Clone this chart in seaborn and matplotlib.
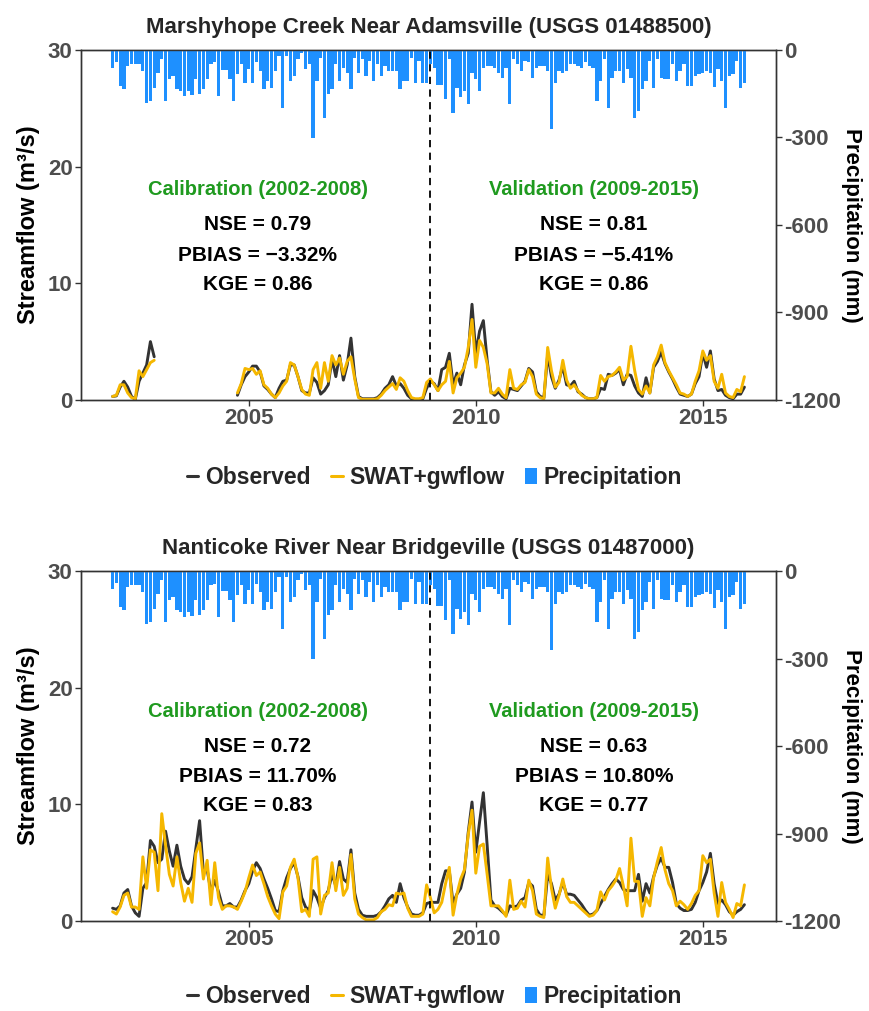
import numpy as np
import pandas as pd
import matplotlib
matplotlib.use("Agg")
import matplotlib.pyplot as plt
import seaborn as sns
from matplotlib.lines import Line2D
from matplotlib.patches import Patch

sns.set_theme(style="ticks")
plt.rcParams["font.family"] = ["Liberation Sans", "DejaVu Sans"]
plt.rcParams["font.weight"] = "bold"
plt.rcParams["axes.unicode_minus"] = False

# ----------------------------
# Data (monthly, Jan 2002 - Dec 2015)
# ----------------------------
start_year = 2002
n_months = 168
split_year = 2009

x_ticks = [2005, 2010, 2015]
flow_ticks = [0, 10, 20, 30]
precip_ticks = [0, -300, -600, -900, -1200]

# monthly precipitation (mm), same forcing for both gauges
precip = [
    61, 40, 123, 133, 55, 49, 49, 49, 72, 181, 175, 129,
    78, 32, 175, 101, 89, 135, 141, 158, 141, 155, 101, 152,
    135, 98, 49, 43, 158, 69, 69, 101, 175, 83, 49, 112,
    66, 112, 43, 72, 135, 106, 129, 72, 21, 198, 21, 106,
    89, 32, 10, 66, 49, 301, 106, 26, 232, 152, 135, 49,
    106, 61, 78, 135, 26, 78, 32, 89, 38, 106, 49, 89,
    55, 72, 72, 72, 135, 106, 106, 26, 112, 38, 112, 112,
    49, 61, 120, 120, 167, 32, 215, 129, 163, 141, 186, 78,
    101, 141, 61, 55, 55, 61, 78, 95, 61, 186, 32, 49,
    72, 38, 43, 95, 61, 55, 55, 72, 272, 112, 72, 78,
    72, 49, 49, 55, 61, 43, 55, 61, 175, 106, 32, 198,
    95, 72, 72, 112, 66, 95, 232, 209, 135, 106, 38, 129,
    32, 95, 98, 101, 49, 106, 72, 49, 123, 123, 89, 83,
    78, 72, 78, 127, 64, 106, 198, 89, 83, 38, 129, 112,
]

nan = np.nan

# Marshyhope Creek (USGS 01488500)
obs_marsh = [
    0.3, 0.35, 1.1, 1.6, 1.1, 0.3, 0.05, 1.6, 2.3, 3.0, 5.0, 3.7,
    nan, nan, nan, nan, nan, nan, nan, nan, nan, nan, nan, nan,
    nan, nan, nan, nan, nan, nan, nan, nan, nan, 0.4, 1.3, 2.0,
    2.4, 2.9, 2.9, 2.4, 1.2, 0.9, 0.5, 0.2, 1.0, 1.6, 1.7, 3.0,
    3.0, 2.0, 0.8, 0.6, 0.6, 1.9, 1.5, 0.5, 0.8, 1.3, 3.5, 2.0,
    3.8, 1.7, 3.0, 5.3, 2.0, 0.3, 0.1, 0.1, 0.1, 0.1, 0.2, 0.5,
    1.0, 1.3, 2.0, 1.2, 1.4, 1.0, 0.4, 0.1, 0.05, 0.05, 0.1, 1.0,
    1.6, 1.4, 0.8, 2.6, 2.8, 4.0, 1.3, 2.3, 1.3, 3.0, 4.0, 8.2,
    4.0, 5.9, 6.8, 3.4, 0.7, 0.4, 0.7, 0.3, 0.1, 1.0, 0.9, 0.8,
    1.2, 1.6, 2.7, 2.4, 0.7, 0.3, 0.2, 3.9, 2.0, 1.0, 1.7, 2.9,
    1.3, 1.2, 1.6, 0.7, 0.5, 0.2, 0.1, 0.1, 0.2, 1.0, 0.9, 2.2,
    2.1, 2.3, 2.6, 1.3, 2.2, 2.1, 1.2, 0.6, 0.3, 1.9, 0.6, 2.8,
    3.3, 4.1, 3.1, 2.4, 1.8, 1.1, 0.5, 0.4, 0.3, 0.5, 1.4, 2.0,
    4.0, 2.8, 4.2, 1.8, 0.8, 0.9, 0.4, 0.2, 0.1, 0.5, 0.5, 1.1,
]
sim_marsh = [
    0.3, 0.4, 1.3, 1.3, 0.6, 0.2, 0.1, 2.5, 2.0, 2.6, 3.2, 3.4,
    nan, nan, nan, nan, nan, nan, nan, nan, nan, nan, nan, nan,
    nan, nan, nan, nan, nan, nan, nan, nan, nan, 0.6, 1.4, 2.7,
    2.6, 2.7, 2.2, 2.5, 1.3, 1.0, 0.5, 0.2, 0.6, 1.2, 1.6, 3.2,
    3.0, 2.0, 0.9, 0.5, 0.4, 2.6, 3.2, 1.0, 3.2, 1.6, 3.8, 3.0,
    3.6, 2.2, 3.3, 3.7, 1.8, 0.2, 0.05, 0.05, 0.05, 0.05, 0.1, 0.4,
    0.8, 1.1, 1.4, 0.9, 1.9, 1.6, 0.8, 0.2, 0.1, 0.1, 0.2, 1.5,
    1.8, 1.3, 0.8, 1.3, 1.6, 3.3, 0.6, 1.9, 2.3, 2.8, 4.5, 6.9,
    2.8, 5.1, 4.5, 3.1, 0.6, 0.6, 1.0, 0.5, 0.2, 2.6, 1.0, 0.9,
    1.3, 1.5, 2.6, 2.0, 0.5, 0.2, 0.1, 4.5, 2.5, 1.1, 1.5, 3.4,
    1.7, 1.0, 1.3, 0.8, 0.4, 0.2, 0.1, 0.1, 0.2, 2.1, 1.6, 2.0,
    2.1, 2.4, 2.8, 1.7, 2.0, 4.6, 2.5, 0.9, 0.5, 1.2, 0.6, 3.0,
    3.7, 4.7, 3.2, 2.5, 1.9, 1.3, 0.6, 0.5, 0.3, 0.5, 1.6, 2.5,
    4.2, 3.4, 3.8, 1.6, 1.0, 2.2, 0.6, 0.3, 0.2, 0.9, 0.7, 2.0,
]

# Nanticoke River (USGS 01487000)
obs_nant = [
    1.1, 1.0, 1.3, 2.4, 2.7, 1.3, 0.7, 0.4, 2.8, 3.3, 6.9, 6.4,
    5.0, 5.3, 7.7, 6.0, 4.7, 6.5, 4.7, 3.6, 3.2, 3.8, 6.2, 8.6,
    4.2, 4.4, 2.5, 3.5, 2.5, 1.3, 1.3, 1.5, 1.2, 1.2, 1.8, 2.6,
    3.2, 4.3, 5.0, 4.5, 3.6, 2.8, 1.9, 0.9, 0.8, 2.6, 3.7, 4.5,
    5.0, 3.8, 2.0, 1.2, 0.9, 2.6, 2.0, 1.1, 2.0, 2.6, 4.0, 3.0,
    5.1, 3.6, 3.3, 6.1, 2.4, 1.0, 0.5, 0.4, 0.4, 0.4, 0.5, 0.8,
    1.3, 1.9, 2.2, 1.6, 3.2, 2.0, 1.2, 0.6, 0.5, 0.5, 0.7, 1.5,
    1.6, 1.6, 1.6, 3.2, 4.3, 4.3, 1.5, 2.3, 2.8, 4.2, 7.6, 10.2,
    5.9, 8.5, 11.0, 6.5, 1.8, 1.3, 1.1, 0.8, 0.5, 1.3, 1.2, 1.3,
    1.8, 2.0, 3.3, 3.0, 1.0, 0.5, 0.5, 4.0, 3.2, 1.8, 2.3, 3.3,
    2.3, 2.3, 2.2, 1.8, 1.4, 0.9, 0.5, 0.6, 0.9, 1.5, 2.1, 2.7,
    3.2, 3.6, 3.3, 2.7, 2.6, 2.6, 2.6, 4.0, 1.7, 3.2, 2.4, 3.8,
    4.8, 5.4, 4.6, 4.6, 3.3, 1.5, 1.1, 0.9, 0.9, 1.0, 1.6, 2.6,
    3.3, 4.2, 5.8, 3.2, 1.5, 1.8, 1.4, 0.8, 0.5, 0.8, 1.0, 1.4,
]
sim_nant = [
    0.8, 0.6, 1.2, 2.2, 2.4, 1.2, 1.2, 1.0, 5.5, 2.8, 6.1, 5.9,
    2.6, 9.2, 6.5, 4.0, 3.0, 5.5, 3.3, 1.7, 2.8, 1.6, 5.8, 6.7,
    3.6, 5.2, 1.4, 5.0, 2.0, 1.0, 1.3, 1.3, 1.2, 1.0, 1.7, 2.5,
    3.7, 4.8, 3.9, 4.2, 3.2, 2.1, 1.3, 0.6, 0.2, 2.5, 3.0, 4.6,
    5.3, 3.7, 0.8, 1.0, 0.4, 5.3, 5.5, 0.6, 2.2, 2.4, 5.0, 2.6,
    4.6, 2.2, 2.8, 5.7, 1.9, 0.6, 0.3, 0.1, 0.1, 0.1, 0.3, 0.8,
    1.0, 1.4, 1.3, 2.4, 2.3, 2.4, 1.1, 0.4, 0.4, 0.4, 0.6, 3.1,
    2.0, 0.7, 1.0, 1.6, 3.2, 4.6, 0.5, 2.3, 3.6, 4.4, 7.4, 9.5,
    4.1, 6.4, 6.6, 4.0, 1.3, 1.3, 1.3, 0.9, 0.4, 3.5, 1.0, 1.1,
    1.7, 1.2, 3.5, 2.6, 0.6, 0.4, 0.3, 5.4, 2.8, 1.1, 2.2, 3.6,
    2.1, 1.6, 1.6, 1.3, 1.0, 0.7, 0.4, 0.5, 0.9, 2.5, 1.8, 2.6,
    3.0, 3.5, 4.5, 3.0, 1.3, 7.1, 3.4, 3.4, 0.4, 2.0, 1.3, 3.7,
    5.1, 6.3, 4.4, 3.2, 2.6, 1.3, 1.7, 1.4, 1.0, 1.5, 2.2, 2.6,
    5.6, 5.0, 5.3, 2.4, 0.4, 3.3, 1.6, 1.0, 0.3, 1.5, 1.3, 3.1,
]

titles = [
    "Marshyhope Creek Near Adamsville (USGS 01488500)",
    "Nanticoke River Near Bridgeville (USGS 01487000)",
]
stats_cal = [
    ["NSE = 0.79", "PBIAS = \u22123.32%", "KGE = 0.86"],
    ["NSE = 0.72", "PBIAS = 11.70%", "KGE = 0.83"],
]
stats_val = [
    ["NSE = 0.81", "PBIAS = \u22125.41%", "KGE = 0.86"],
    ["NSE = 0.63", "PBIAS = 10.80%", "KGE = 0.77"],
]

# ----------------------------
# Styling
# ----------------------------
OBS_COLOR = "#333333"
SIM_COLOR = "#F5B700"
PCP_COLOR = "#1E90FF"
LABEL_GREEN = "#1F9A1F"
TICK_GRAY = "#4D4D4D"

t = start_year + np.arange(n_months) / 12.0
span = t[-1] - t[0]
x_lim = (t[0] - 0.05 * span, t[-1] + 0.05 * span)


def draw_panel(fig, rect, title, obs, sim, cal_lines, val_lines):
    ax = fig.add_axes(rect)
    ax2 = ax.twinx()

    df = pd.DataFrame({"t": t, "Observed": obs, "SWAT+gwflow": sim})
    valid = df["Observed"].notna()
    run_id = (valid != valid.shift()).cumsum()
    for _, seg in df[valid].groupby(run_id[valid]):
        sns.lineplot(data=seg, x="t", y="Observed", color=OBS_COLOR, lw=2.1, ax=ax)
        sns.lineplot(data=seg, x="t", y="SWAT+gwflow", color=SIM_COLOR, lw=2.1, ax=ax)

    ax2.bar(t, -np.array(precip), width=0.072, color=PCP_COLOR, linewidth=0)
    ax2.axvline(split_year, color="black", ls=(0, (4, 3)), lw=1.3)

    ax.set_xlim(*x_lim)
    ax.set_ylim(0, 30)
    ax2.set_ylim(-1200, 0)
    ax.set_xticks(x_ticks)
    ax.set_yticks(flow_ticks)
    ax2.set_yticks(precip_ticks)
    ax2.set_yticklabels([str(v) for v in precip_ticks])

    ax.set_xlabel("")
    ax.set_ylabel("Streamflow (m\u00b3/s)", fontsize=17, fontweight="bold", color="black", labelpad=6)
    ax2.set_ylabel("Precipitation (mm)", fontsize=16, fontweight="bold", color="black",
                   rotation=270, va="bottom", labelpad=0)
    ax.set_title(title, fontsize=16, fontweight="bold", pad=12)

    for a in (ax, ax2):
        a.tick_params(labelsize=16, labelcolor=TICK_GRAY, color="#333333", length=4, width=1, pad=2)
        for s in a.spines.values():
            s.set_color("#333333")
            s.set_linewidth(1.0)
        for lab in a.get_xticklabels() + a.get_yticklabels():
            lab.set_fontweight("bold")

    text_y = [15.0, 12.4, 9.9]
    for xc, head, lines in [(2005.2, "Calibration (2002-2008)", cal_lines),
                            (2012.6, "Validation (2009-2015)", val_lines)]:
        ax.text(xc, 18.0, head, color=LABEL_GREEN, fontsize=14.5, fontweight="bold",
                ha="center", va="center")
        for yv, s in zip(text_y, lines):
            ax.text(xc, yv, s, color="black", fontsize=15, fontweight="bold",
                    ha="center", va="center")
    return ax


fig = plt.figure(figsize=(8.69, 10.11), dpi=100)

rects = [[0.0932, 0.6044, 0.7998, 0.3462], [0.0932, 0.0890, 0.7998, 0.3462]]
legend_y = [0.528, 0.014]
flows = [(obs_marsh, sim_marsh), (obs_nant, sim_nant)]

handles = [
    Line2D([0], [0], color=OBS_COLOR, lw=2.2),
    Line2D([0], [0], color=SIM_COLOR, lw=2.2),
    Patch(facecolor=PCP_COLOR, edgecolor="none"),
]
labels = ["Observed", "SWAT+gwflow", "Precipitation"]

for i in range(2):
    draw_panel(fig, rects[i], titles[i], flows[i][0], flows[i][1], stats_cal[i], stats_val[i])
    fig.legend(handles, labels, loc="center", bbox_to_anchor=(0.5, legend_y[i]), ncol=3,
               frameon=False, handlelength=0.5, handletextpad=0.3, columnspacing=0.9,
               prop={"size": 16.5, "weight": "bold"})

fig.savefig("out.png", dpi=100)
